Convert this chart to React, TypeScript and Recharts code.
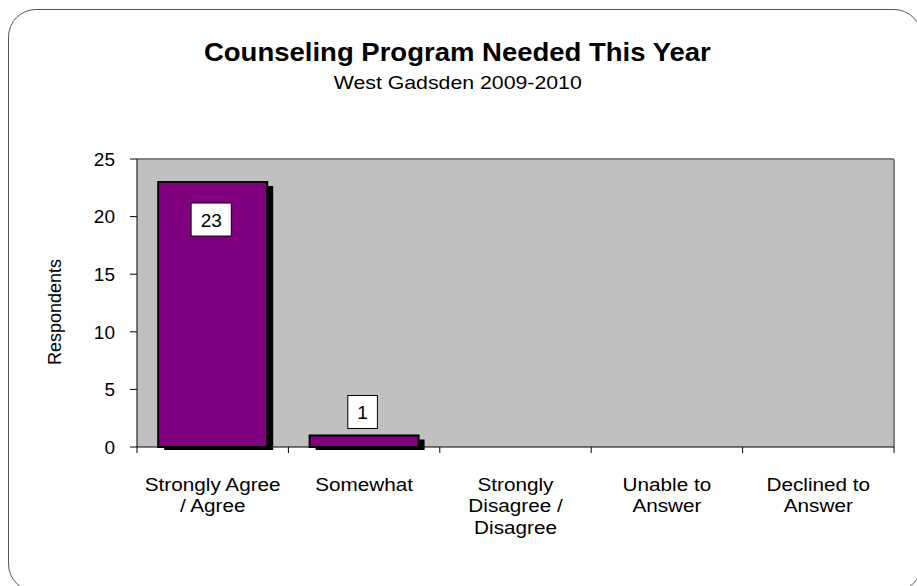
import { Bar, BarChart, CartesianGrid, LabelList, ReferenceLine, XAxis, YAxis } from "recharts"

const categories = [
    "Strongly Agree / Agree",
    "Somewhat",
    "Strongly Disagree / Disagree",
    "Unable to Answer",
    "Declined to Answer",
]
const categoryLines = [
    ["Strongly Agree", "/ Agree"],
    ["Somewhat"],
    ["Strongly", "Disagree /", "Disagree"],
    ["Unable to", "Answer"],
    ["Declined to", "Answer"],
]
const respondents = [23, 1, 0, 0, 0]
const yTicks = [0, 5, 10, 15, 20, 25]
// category boundaries (integers) and category centres (halves) on the edge axis
const edgeTicks = [0, 0.5, 1, 1.5, 2, 2.5, 3, 3.5, 4, 4.5, 5]

const data = categories.map((name, i) => ({ name, value: respondents[i] }))

const FONT = '"Liberation Sans", Arial, sans-serif'
const PLOT_TOP = 159

function EdgeTick(props: any) {
    const { x, y, payload } = props
    const v = payload.value as number
    if (Number.isInteger(v)) {
        return <line x1={x} x2={x} y1={y} y2={y + 6} stroke="#000" strokeWidth={1} />
    }
    const lines = categoryLines[Math.floor(v)] ?? []
    return (
        <g transform={`translate(${x},${y})`}>
            <text textAnchor="middle" fontSize={18.5} fill="#000" transform="scale(1.12,1)">
                {lines.map((line, i) => (
                    <tspan key={i} x={0} y={44 + i * 21.5}>
                        {line}
                    </tspan>
                ))}
            </text>
        </g>
    )
}

function ShadowBar(props: any) {
    const { x, y, width, height } = props
    if (!height || height <= 0) return null
    return (
        <g>
            <rect x={x + 6} y={y + 4} width={width} height={height - 1} fill="#000" />
            <rect x={x} y={y} width={width} height={height} fill="#800080" stroke="#000" strokeWidth={2} />
        </g>
    )
}

function ValueBox(props: any) {
    const vb = props.viewBox ?? props
    const { x, y, width } = vb
    const value = props.value
    if (!value) return null
    const text = String(value)
    const boxW = text.length * 10.6 + 19
    const boxH = 33
    const cx = x + width / 2 - 1.5
    const above = y - 7 - boxH
    const top = above < PLOT_TOP ? y + 21 : above
    return (
        <g>
            <rect x={cx - boxW / 2} y={top} width={boxW} height={boxH} fill="#fff" stroke="#000" strokeWidth={1} />
            <text x={cx} y={top + boxH / 2 + 7} textAnchor="middle" fontSize={19} fill="#000">
                {text}
            </text>
        </g>
    )
}

function YLabel() {
    return (
        <text transform="translate(61,312) rotate(-90)" textAnchor="middle" fontSize={18} fill="#000">
            Respondents
        </text>
    )
}

export default function App() {
    return (
        <div
            style={{
                position: "fixed",
                left: 0,
                top: 0,
                width: 917,
                height: 586,
                overflow: "hidden",
                background: "#fff",
                fontFamily: FONT,
            }}
        >
            <div
                style={{
                    position: "absolute",
                    left: 8,
                    top: 9,
                    width: 914,
                    height: 583,
                    boxSizing: "border-box",
                    border: "1.5px solid #555",
                    borderRadius: 28,
                }}
            />
            <div style={{ position: "absolute", left: 0, top: 0 }}>
                <BarChart
                    width={917}
                    height={586}
                    data={data}
                    margin={{ top: PLOT_TOP, right: 23, left: 0, bottom: 39 }}
                    barCategoryGap="14%"
                >
                    <CartesianGrid fill="#c0c0c0" stroke="none" horizontal={false} vertical={false} />
                    <XAxis dataKey="name" hide height={0} />
                    <XAxis
                        xAxisId="edges"
                        dataKey="value"
                        type="number"
                        domain={[0, 5]}
                        allowDataOverflow
                        ticks={edgeTicks}
                        interval={0}
                        height={100}
                        tick={<EdgeTick />}
                        tickSize={0}
                        tickMargin={0}
                        tickLine={false}
                        axisLine={{ stroke: "#000" }}
                    />
                    <YAxis
                        width={137}
                        domain={[0, 25]}
                        ticks={yTicks}
                        interval={0}
                        tickSize={7}
                        tickMargin={15}
                        axisLine={{ stroke: "#000" }}
                        tickLine={{ stroke: "#000" }}
                        tick={{ fill: "#000", fontSize: 19 }}
                        label={<YLabel />}
                    />
                    <ReferenceLine y={25} stroke="#808080" strokeWidth={2} />
                    <ReferenceLine x={5} xAxisId="edges" stroke="#808080" strokeWidth={2} />
                    <Bar dataKey="value" shape={<ShadowBar />} isAnimationActive={false}>
                        <LabelList dataKey="value" content={<ValueBox />} />
                    </Bar>
                </BarChart>
            </div>
            <div
                style={{
                    position: "absolute",
                    left: 0,
                    top: 40,
                    width: 914,
                    textAlign: "center",
                    fontSize: 25,
                    lineHeight: "25px",
                    fontWeight: "bold",
                    color: "#000",
                }}
            >
                <span style={{ display: "inline-block", transform: "scaleX(1.1)" }}>
                    Counseling Program Needed This Year
                </span>
            </div>
            <div
                style={{
                    position: "absolute",
                    left: 0,
                    top: 73,
                    width: 916,
                    textAlign: "center",
                    fontSize: 19,
                    lineHeight: "19px",
                    color: "#000",
                }}
            >
                <span style={{ display: "inline-block", transform: "scaleX(1.12)" }}>West Gadsden 2009-2010</span>
            </div>
        </div>
    )
}
